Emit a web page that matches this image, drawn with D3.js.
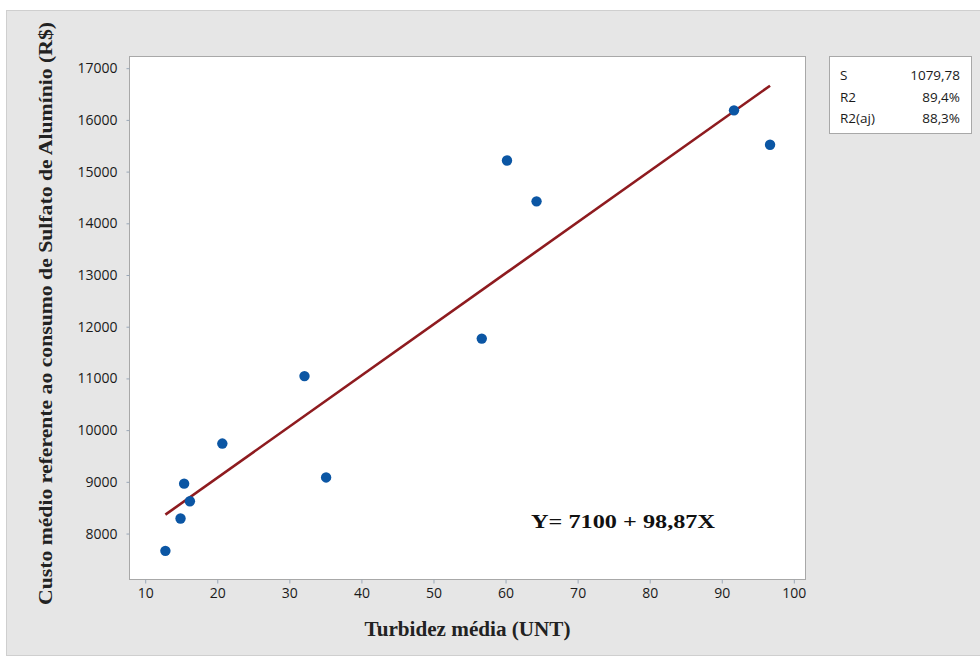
<!DOCTYPE html>
<html>
<head>
<meta charset="utf-8">
<script src="https://cdn.jsdelivr.net/npm/d3@7"></script>
<style>
  body { margin: 0; background: #fff; }
  svg { display: block; }
</style>
</head>
<body>
<svg id="chart" width="980" height="661"></svg>
<script>
// turbidity (UNT) and cost (R$)
const turbidity = [12.8, 14.9, 15.4, 16.2, 20.7, 32.1, 35.1, 56.7, 60.2, 64.3, 91.7, 96.7];
const cost = [7665, 8290, 8965, 8625, 9740, 11045, 9085, 11770, 15215, 14425, 16185, 15520];
const xTicks = [10, 20, 30, 40, 50, 60, 70, 80, 90, 100];
const yTicks = [8000, 9000, 10000, 11000, 12000, 13000, 14000, 15000, 16000, 17000];
const fitIntercept = 7100;
const fitSlope = 98.87;
const statNames = ['S', 'R2', 'R2(aj)'];
const statValues = ['1079,78', '89,4%', '88,3%'];

const plot = {left: 129.5, top: 56.5, right: 805.5, bottom: 579.5};

const svg = d3.select('#chart');

// outer gray panel
svg.append('rect')
    .attr('x', 6.5).attr('y', 10.5)
    .attr('width', 980).attr('height', 645)
    .attr('fill', '#e6e6e6')
    .attr('stroke', '#cfcfcf');

let x = d3.scaleLinear()
    .domain([7.82, 101.62])
    .range([plot.left, plot.right]);

let y = d3.scaleLinear()
    .domain([7111, 17226])
    .range([plot.bottom, plot.top]);

svg.append('rect')
    .attr('x', plot.left).attr('y', plot.top)
    .attr('width', plot.right - plot.left)
    .attr('height', plot.bottom - plot.top)
    .attr('fill', '#fff')
    .attr('stroke', '#a8a8a8');

// axes
let yAxis = svg.append('g')
    .attr('transform', 'translate(' + plot.left + ',0)')
    .call(d3.axisLeft(y).tickValues(yTicks).tickSize(3).tickPadding(9)
        .tickFormat(d3.format('d')));

let xAxis = svg.append('g')
    .attr('transform', 'translate(0,' + plot.bottom + ')')
    .call(d3.axisBottom(x).tickValues(xTicks).tickSize(4).tickPadding(5)
        .tickFormat(d3.format('d')));

[xAxis, yAxis].forEach(function(a) {
  a.select('.domain').remove();
  a.selectAll('.tick line').attr('stroke', '#9aa8b8');
  a.selectAll('.tick text')
      .attr('fill', '#1a1a1a')
      .style('font-family', '"Open Sans", sans-serif')
      .style('font-size', '14px');
});

// fitted line across the data range
let xmin = d3.min(turbidity);
let xmax = d3.max(turbidity);
svg.append('line')
    .attr('x1', x(xmin))
    .attr('y1', y(fitIntercept + fitSlope * xmin))
    .attr('x2', x(xmax))
    .attr('y2', y(fitIntercept + fitSlope * xmax))
    .attr('stroke', '#8e1b1f')
    .attr('stroke-width', 2.6);

svg.append('g').selectAll('circle')
    .data(d3.range(turbidity.length))
    .enter()
    .append('circle')
    .attr('cx', function(i) { return x(turbidity[i]); })
    .attr('cy', function(i) { return y(cost[i]); })
    .attr('r', 5.2)
    .attr('fill', '#0b56a4');

// equation
svg.append('text')
    .attr('x', 531).attr('y', 528)
    .attr('textLength', 184)
    .attr('lengthAdjust', 'spacingAndGlyphs')
    .style('font-family', '"Liberation Serif", "Times New Roman", serif')
    .style('font-weight', 'bold')
    .style('font-size', '19px')
    .attr('fill', '#111')
    .text('Y= 7100 + 98,87X');

// axis titles
svg.append('text')
    .attr('x', (plot.left + plot.right) / 2)
    .attr('y', 636)
    .attr('text-anchor', 'middle')
    .attr('textLength', 206)
    .attr('lengthAdjust', 'spacingAndGlyphs')
    .style('font-family', '"Liberation Serif", "Times New Roman", serif')
    .style('font-weight', 'bold')
    .style('font-size', '20px')
    .attr('fill', '#222')
    .text('Turbidez média (UNT)');

svg.append('text')
    .attr('transform', 'translate(52,313.5) rotate(-90)')
    .attr('text-anchor', 'middle')
    .attr('textLength', 583)
    .attr('lengthAdjust', 'spacingAndGlyphs')
    .style('font-family', '"Liberation Serif", "Times New Roman", serif')
    .style('font-weight', 'bold')
    .style('font-size', '19px')
    .attr('fill', '#222')
    .text('Custo médio referente ao consumo de Sulfato de Alumínio (R$)');

// stats box
let box = svg.append('g');
box.append('rect')
    .attr('x', 829.5).attr('y', 56.5)
    .attr('width', 142).attr('height', 77)
    .attr('fill', '#fff')
    .attr('stroke', '#a8a8a8');

statNames.forEach(function(name, i) {
  let by = 80 + i * 21.5;
  box.append('text')
      .attr('x', 840).attr('y', by)
      .style('font-family', '"Open Sans", sans-serif')
      .style('font-size', '13.5px')
      .attr('fill', '#1a1a1a')
      .text(name);
  box.append('text')
      .attr('x', 960).attr('y', by)
      .attr('text-anchor', 'end')
      .style('font-family', '"Open Sans", sans-serif')
      .style('font-size', '13.5px')
      .attr('fill', '#1a1a1a')
      .text(statValues[i]);
});
</script>
</body>
</html>
